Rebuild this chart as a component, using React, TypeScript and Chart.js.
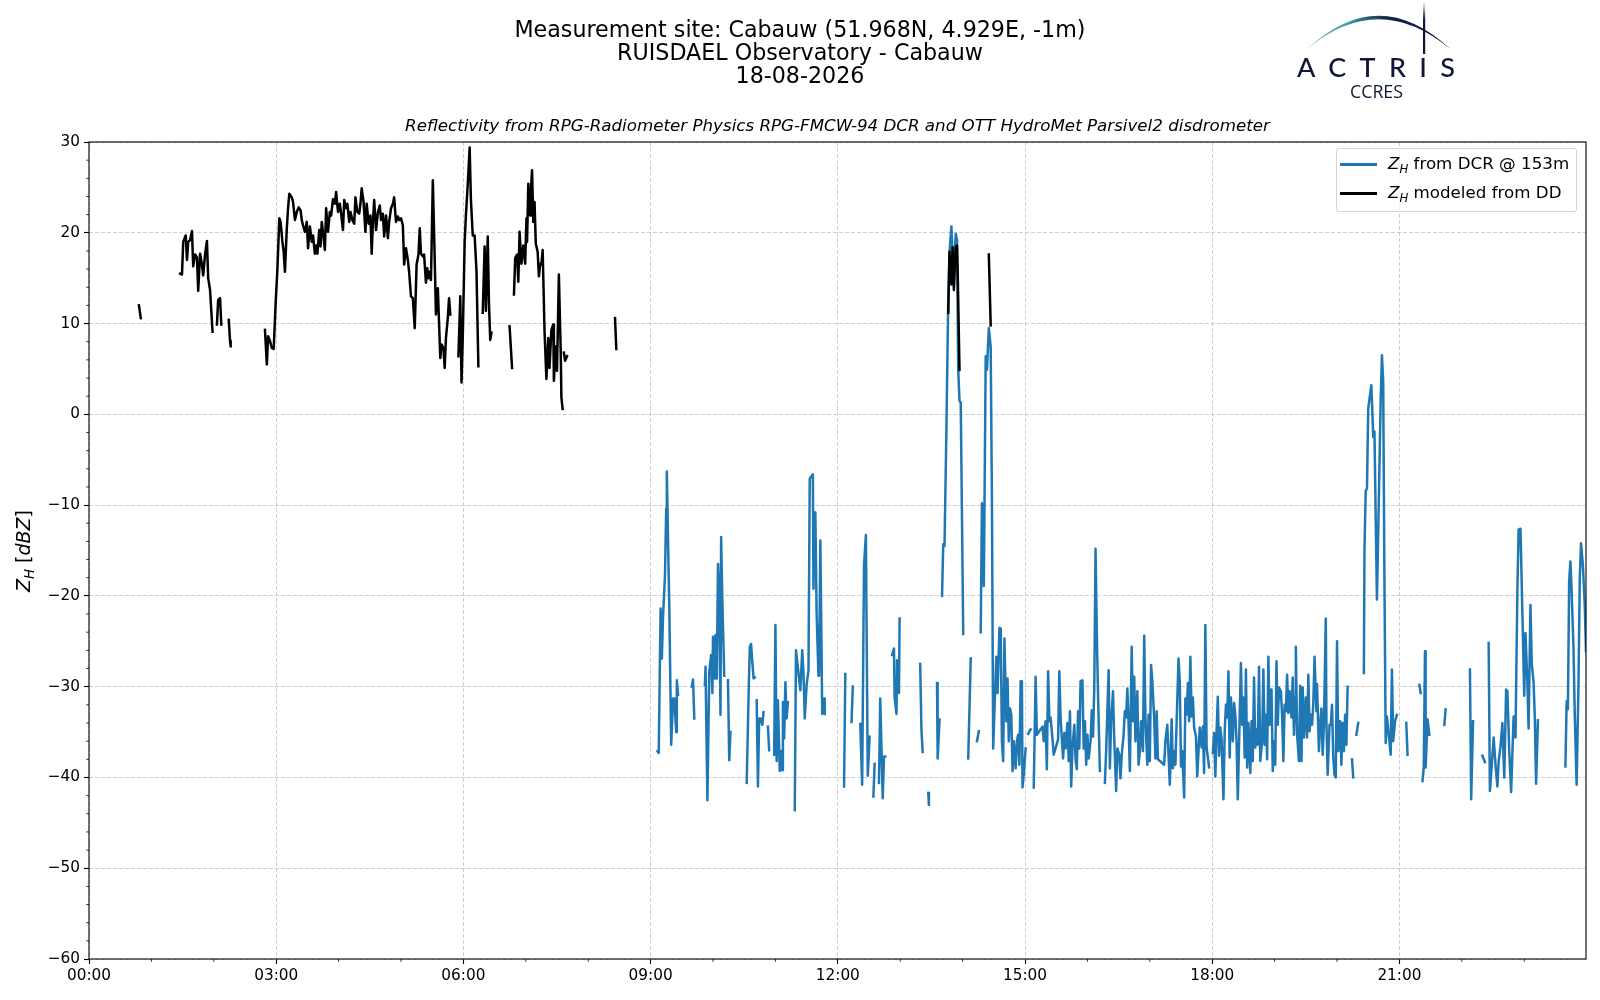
import React, { useEffect, useRef } from "react";
import { Chart, registerables } from "chart.js";

Chart.register(...registerables);

const FONT = "'DejaVu Sans', sans-serif";
const DCR_COLOR = "#1f77b4";
const DD_COLOR = "#000000";

// Z_H modeled from the disdrometer (hours of day, dBZ; null = no data)
const ddHours = [
  0.8, 0.83, 0.9,
  1.46, 1.49, 1.51, 1.55, 1.57, 1.59, 1.62, 1.65, 1.67, 1.7,
  1.73, 1.75, 1.78, 1.81, 1.83, 1.86, 1.89, 1.91, 1.94, 1.98, 2.02,
  2.05, 2.07, 2.1, 2.12, 2.18, 2.24, 2.26, 2.27, 2.5,
  2.82, 2.85, 2.87, 2.9, 2.93, 2.96, 2.99, 3.02, 3.05, 3.07,
  3.1, 3.12, 3.14, 3.17, 3.19, 3.21, 3.25, 3.27, 3.3, 3.33,
  3.36, 3.39, 3.41, 3.43, 3.46, 3.49, 3.51, 3.54, 3.57, 3.59,
  3.62, 3.64, 3.66, 3.69, 3.71, 3.73, 3.75, 3.78, 3.8, 3.83,
  3.86, 3.88, 3.91, 3.94, 3.96, 3.99, 4.02, 4.04, 4.07, 4.09,
  4.12, 4.14, 4.17, 4.19, 4.22, 4.25, 4.27, 4.3, 4.33, 4.35,
  4.37, 4.4, 4.43, 4.45, 4.48, 4.51, 4.53, 4.55, 4.57, 4.6,
  4.63, 4.66, 4.68, 4.71, 4.73, 4.76, 4.79, 4.81, 4.84, 4.87,
  4.89, 4.92, 4.95, 4.97, 5.0, 5.03, 5.05, 5.08, 5.11, 5.13,
  5.16, 5.19, 5.22, 5.25, 5.28, 5.3, 5.32, 5.35, 5.37, 5.4,
  5.42, 5.44, 5.46, 5.48, 5.51, 5.53, 5.56, 5.59, 5.63, 5.65,
  5.68, 5.7, 5.72, 5.75, 5.77, 5.79, 5.85,
  5.92, 5.95, 5.97, 5.99, 6.02, 6.04, 6.07, 6.1, 6.12, 6.15, 6.18, 6.21, 6.24, 6.27,
  6.31, 6.34, 6.36, 6.39, 6.41, 6.43, 6.45, 6.6, 6.74, 6.78, 6.795,
  6.81, 6.83, 6.86, 6.88, 6.9, 6.93, 6.96, 6.99, 7.01, 7.02,
  7.04, 7.07, 7.08, 7.1, 7.12, 7.14, 7.16, 7.19, 7.21, 7.23,
  7.25, 7.27, 7.3, 7.33, 7.36, 7.38, 7.41, 7.44, 7.45, 7.48,
  7.5, 7.53, 7.56, 7.57, 7.59, 7.6, 7.61, 7.63, 7.66, 8.0,
  8.43, 8.45, 9.0,
  13.77, 13.79, 13.82, 13.84, 13.86, 13.89, 13.91, 13.92, 13.95, 14.1,
  14.42, 14.45,
];
const ddDbz = [
  12.0, 10.6, null,
  15.5, 15.4, 19.0, 19.7, 17.0, 19.0, 19.2, 20.2, 16.3, 17.6,
  17.3, 13.6, 17.7, 16.5, 15.3, 17.6, 19.1, 15.0, 13.7, 9.1, null,
  9.9, 12.6, 12.8, 9.9, null, 10.4, 8.1, 7.5, null,
  9.3, 5.5, 8.6, 8.1, 7.3, 7.2, 12.1, 16.1, 21.6, 21.2,
  19.0, 17.9, 15.7, 20.5, 22.7, 24.3, 23.9, 23.4, 21.4, 22.3,
  22.8, 22.5, 21.4, 20.8, 20.1, 21.2, 18.3, 20.7, 19.0, 19.7,
  17.7, 18.6, 17.7, 20.3, 18.5, 21.2, 20.1, 18.1, 22.7, 20.1,
  22.3, 21.9, 23.7, 23.2, 24.5, 22.3, 23.2, 22.1, 20.3, 23.6,
  22.7, 23.2, 21.2, 22.3, 21.4, 21.0, 23.9, 22.3, 22.1, 23.2,
  24.9, 23.4, 20.1, 23.2, 21.0, 21.9, 17.7, 21.2, 23.6, 20.3,
  22.3, 23.0, 21.4, 22.1, 19.6, 21.9, 19.4, 21.2, 22.7, 23.2,
  23.9, 21.2, 21.8, 21.4, 21.6, 20.8, 16.5, 18.3, 17.0, 15.7,
  13.0, 12.8, 9.5, 16.5, 17.6, 20.5, 17.7, 17.4, 17.6, 14.5,
  16.1, 15.0, 15.7, 14.8, 25.8, 20.1, 11.0, 13.9, 6.2, 7.7,
  7.3, 5.1, 8.4, 10.6, 12.8, 11.0, null,
  6.4, 13.0, 3.5, 8.6, 19.0, 21.9, 25.4, 29.4, 23.7, 19.7, 19.7, 15.7, 5.3, null,
  11.2, 18.5, 11.4, 19.6, 12.1, 8.2, 9.0, null, 9.7, 5.1, null,
  13.2, 17.2, 17.6, 14.6, 20.1, 16.6, 18.6, 16.6, 21.6, 19.0,
  25.4, 21.9, 24.5, 26.9, 21.2, 23.4, 18.8, 17.9, 15.2, 16.6,
  16.5, 18.1, 9.2, 3.9, 8.4, 5.1, 9.3, 9.9, 3.7, 7.5,
  4.8, 15.4, 6.8, 1.9, 0.6, null, 6.8, 5.9, 6.4, null,
  10.6, 7.2, null,
  11.2, 17.9, 14.3, 18.4, 13.7, 18.4, 18.6, 16.1, 4.9, null,
  17.6, 9.8,
];

// Z_H from the cloud radar at 153 m
const dcrHours = [
  9.11, 9.13, 9.16, 9.18, 9.2, 9.23, 9.25, 9.26, 9.28, 9.3,
  9.33, 9.36, 9.38, 9.41, 9.42, 9.44, 9.55,
  9.66, 9.68, 9.7, 9.8,
  9.87, 9.88, 9.91, 9.94, 9.97, 9.99, 10.0, 10.03, 10.04, 10.06,
  10.08, 10.1, 10.12, 10.13, 10.15, 10.18, 10.21,
  10.24, 10.26, 10.28, 10.4,
  10.54, 10.57, 10.59, 10.61, 10.63, 10.65, 10.67, 10.68,
  10.7, 10.72, 10.74, 10.76, 10.79, 10.81, 10.85,
  10.88, 10.9, 10.95,
  10.98, 11.0, 11.02, 11.04, 11.07, 11.09, 11.11, 11.12, 11.14, 11.16, 11.18, 11.2, 11.25,
  11.31, 11.33, 11.4, 11.43, 11.45, 11.47, 11.5, 11.53, 11.55, 11.58,
  11.6, 11.61, 11.62, 11.64, 11.66, 11.69, 11.7, 11.72, 11.75, 11.78, 11.79, 11.95,
  12.1, 12.12, 12.18, 12.22, 12.24, 12.3,
  12.36, 12.39, 12.42, 12.45, 12.48, 12.51, 12.54,
  12.57, 12.59, 12.62, 12.66, 12.68, 12.72, 12.74, 12.76, 12.82,
  12.87, 12.9, 12.91, 12.94, 12.95, 12.98, 12.99, 13.15,
  13.32, 13.34, 13.36, 13.4, 13.45, 13.46, 13.52,
  13.59, 13.6, 13.63, 13.65,
  13.67, 13.69, 13.71, 13.74, 13.77, 13.79, 13.82, 13.85, 13.87, 13.89,
  13.91, 13.93, 13.95, 13.97, 14.01, 14.05,
  14.09, 14.13, 14.18, 14.23, 14.26, 14.27,
  14.29, 14.31, 14.34, 14.37, 14.39, 14.42, 14.45, 14.47, 14.49, 14.54,
  14.56, 14.59, 14.61, 14.63, 14.65, 14.67, 14.7, 14.72, 14.74, 14.76,
  14.78, 14.8, 14.82, 14.85, 14.87, 14.89, 14.91, 14.93, 14.95, 14.96,
  14.98, 15.01, 15.03, 15.05, 15.09, 15.12,
  15.14, 15.17, 15.19, 15.28, 15.3, 15.33, 15.35, 15.37, 15.39, 15.41,
  15.44, 15.46, 15.53, 15.55, 15.57, 15.61, 15.63, 15.65, 15.68, 15.7,
  15.72, 15.74, 15.76, 15.79, 15.81, 15.83, 15.85, 15.87, 15.89, 15.92,
  15.94, 15.96, 15.98, 16.0, 16.02, 16.05, 16.07, 16.09, 16.11, 16.13,
  16.15, 16.17, 16.2, 16.24, 16.28, 16.3, 16.34, 16.36, 16.38, 16.41,
  16.43, 16.46, 16.48, 16.51, 16.53, 16.55, 16.58, 16.6, 16.62, 16.64,
  16.66, 16.68, 16.71, 16.73, 16.75, 16.77, 16.8, 16.82, 16.84, 16.86,
  16.89, 16.91, 16.93, 16.96, 16.98, 17.0, 17.02, 17.04, 17.07, 17.09,
  17.11, 17.13, 17.23, 17.25, 17.28, 17.3, 17.32, 17.35, 17.37, 17.39,
  17.41, 17.43, 17.46, 17.48, 17.5, 17.52, 17.55, 17.57, 17.59, 17.61,
  17.63, 17.65, 17.67, 17.69, 17.71, 17.74, 17.76, 17.78, 17.8, 17.83,
  17.85, 17.87, 17.89, 17.91, 17.93, 17.95, 17.98,
  18.01, 18.03, 18.05, 18.07, 18.09, 18.11, 18.13, 18.15, 18.18, 18.2,
  18.22, 18.24, 18.26, 18.28, 18.3, 18.33, 18.35, 18.37, 18.39, 18.41,
  18.43, 18.46, 18.48, 18.5, 18.52, 18.54, 18.56, 18.58, 18.61, 18.63,
  18.65, 18.67, 18.69, 18.71, 18.73, 18.75, 18.77, 18.8, 18.82, 18.84,
  18.86, 18.88, 18.9, 18.92, 18.95, 18.97, 18.99, 19.01, 19.03, 19.05,
  19.07, 19.1, 19.12, 19.14, 19.16, 19.18, 19.2, 19.22, 19.24, 19.27,
  19.29, 19.31, 19.33, 19.34, 19.36, 19.39, 19.41, 19.43, 19.45, 19.47,
  19.5, 19.52, 19.54, 19.56, 19.58, 19.6, 19.62, 19.64, 19.67, 19.68,
  19.71, 19.73, 19.75, 19.77, 19.79, 19.82, 19.83, 19.85, 19.88, 19.9,
  19.92, 19.94, 19.96, 19.98, 20.0, 20.02, 20.05, 20.07, 20.09, 20.11,
  20.13, 20.15, 20.17, 20.2, 20.24, 20.26, 20.28, 20.31, 20.34, 20.38,
  20.43, 20.44, 20.46, 20.48, 20.5, 20.52, 20.55, 20.57, 20.58, 20.6,
  20.62, 20.64, 20.67, 20.7, 20.72, 20.74, 20.76, 20.78, 20.8, 20.83,
  20.86, 20.88, 20.9, 20.93, 20.96, 21.05,
  21.11, 21.13, 21.2, 21.32, 21.34, 21.355,
  21.37, 21.39, 21.41, 21.42, 21.45, 21.48, 21.6,
  21.72, 21.74, 21.9, 22.13, 22.15, 22.18, 22.25,
  22.33, 22.37, 22.4, 22.43, 22.45, 22.51, 22.54, 22.57, 22.59, 22.62,
  22.65, 22.68, 22.71, 22.73, 22.76, 22.79, 22.83, 22.86, 22.89, 22.91,
  22.94, 22.97, 23.0, 23.02, 23.05, 23.07, 23.1, 23.12, 23.15, 23.17,
  23.19, 23.22, 23.4, 23.66, 23.68, 23.7, 23.72, 23.74, 23.76, 23.79,
  23.81, 23.84, 23.87, 23.89, 23.91, 23.94, 23.97, 23.99,
];
const dcrDbz = [
  -37.1, -37.3, -21.4, -26.9, -22.1, -17.8, -10.4, -6.3, -14.1, -21.4,
  -36.4, -31.3, -31.3, -35.0, -29.3, -30.9, null,
  -30.0, -29.2, -33.5, null,
  -29.8, -27.8, -42.5, -28.4, -26.5, -30.7, -24.5, -29.1, -24.3, -29.1,
  -16.5, -19.6, -33.1, -13.5, -20.7, -28.8, null,
  -29.3, -38.1, -35.0, null,
  -40.6, -30.9, -25.6, -25.3, -27.3, -29.1, -29.0, null,
  -31.5, -41.0, -33.5, -33.5, -34.2, -32.8, null,
  -34.4, -37.0, null,
  -37.5, -23.2, -38.2, -31.5, -39.3, -37.1, -39.2, -31.7, -35.7, -29.5, -33.5, -31.7, null,
  -43.6, -26.0, -30.4, -26.0, -28.5, -33.5, -29.8, -28.2, -7.1, -6.8,
  -6.6, -19.2, -11.0, -10.8, -21.8, -28.8, -28.8, -13.9, -33.0, -31.3, -33.0, null,
  -41.0, -28.6, null, -33.9, -30.0, null,
  -34.1, -40.8, -16.6, -13.3, -39.8, -35.5, null,
  -42.1, -38.5, null, -40.6, -31.3, -42.3, -37.7, -37.7, null,
  -26.5, -25.8, -31.1, -33.0, -27.1, -30.7, -22.5, null,
  -27.5, -34.7, -37.2, null, -41.7, -43.0, null,
  -29.6, -37.9, -33.6, null,
  -20.0, -14.3, -14.5, -1.8, 12.9, 17.8, 20.7, 15.9, 17.1, 19.9,
  19.2, 4.9, 1.5, 1.3, -24.2, null,
  -37.9, -26.9, null, -36.0, -34.9, null,
  -24.0, -9.8, -18.9, 6.4, 4.9, 9.5, 7.4, -9.8, -36.8, -26.7,
  -30.7, -23.5, -23.6, -36.0, -38.2, -24.7, -33.8, -29.1, -36.0, -32.4,
  -33.1, -39.3, -36.0, -39.0, -36.0, -35.3, -38.6, -29.4, -29.4, -41.1,
  -39.7, -36.8, null, -35.2, -34.7, null,
  -41.1, -28.9, -35.3, -34.4, -36.0, -33.8, -39.1, -28.3, -33.8, -33.4,
  -35.7, -37.5, -35.8, -28.3, -33.5, -37.9, -35.1, -36.8, -34.0, -38.2,
  -32.7, -41.0, -36.8, -34.2, -38.0, -39.1, -32.7, -36.8, -29.4, -29.3,
  -36.8, -33.8, -38.6, -35.3, -37.9, -36.0, -32.6, -35.5, -30.2, -14.8,
  -24.0, -30.9, -39.3, null, -40.6, -37.1, -28.2, -39.0, -33.8, -30.5,
  -35.8, -41.5, -36.8, -37.5, -40.1, -37.5, -35.3, -32.7, -33.4, -30.2,
  -34.2, -39.3, -25.6, -33.8, -28.9, -36.0, -30.5, -38.6, -37.1, -33.8,
  -37.1, -24.4, -33.5, -38.6, -33.1, -38.2, -27.6, -29.4, -33.5, -37.9,
  -32.7, -38.0, -38.6, -36.0, -34.2, -37.5, -40.8, -33.6, -39.0, -37.1,
  -38.6, -33.8, -26.9, -29.4, -38.8, -37.1, -42.2, -31.3, -33.1, -29.6,
  -33.8, -26.7, -33.3, -31.2, -34.5, -35.5, -39.9, -37.1, -34.5, -36.7,
  -34.4, -39.5, -23.2, -36.7, -37.8, -38.9, null,
  -37.3, -35.1, -39.9, -34.9, -31.1, -37.6, -34.5, -35.8, -42.4, -34.9,
  -32.0, -33.4, -28.3, -37.8, -31.2, -36.0, -31.8, -33.1, -36.0, -42.4,
  -36.4, -27.4, -34.2, -31.2, -37.8, -28.1, -38.9, -34.0, -39.5, -33.8,
  -38.2, -29.0, -36.7, -34.7, -36.4, -27.8, -38.2, -36.0, -28.1, -36.4,
  -33.1, -38.0, -26.7, -34.2, -30.3, -39.3, -36.0, -38.6, -27.2, -34.2,
  -30.1, -30.5, -33.1, -38.2, -32.0, -32.7, -28.7, -32.9, -30.5, -33.4,
  -29.0, -35.3, -31.2, -25.6, -35.3, -38.2, -29.9, -38.2, -30.1, -35.6,
  -31.2, -35.6, -28.7, -34.9, -33.1, -34.2, -31.8, -26.7, -32.7, -29.7,
  -37.1, -34.2, -32.4, -37.5, -34.2, -22.5, -33.8, -39.7, -34.2, -34.2,
  -32.0, -37.8, -39.7, -40.0, -25.0, -37.1, -33.8, -38.6, -34.0, -37.1,
  -33.1, -36.4, -30.0, null, -38.0, -40.0, null, -35.3, -34.0, null,
  -28.5, -14.8, -8.4, -8.2, 0.6, 1.7, 3.2, -0.5, -2.5, -1.9,
  -11.5, -20.4, -9.3, 1.7, 6.5, 3.6, -18.4, -36.2, -33.3, -35.3,
  -37.5, -28.1, -36.0, -33.8, -33.1, null,
  -34.0, -37.5, null, -29.8, -30.7, null,
  -40.4, -38.9, -26.1, -38.9, -33.6, -35.3, null,
  -34.2, -32.5, null, -28.1, -42.4, -33.8, null,
  -37.6, -38.3, null, -25.2, -41.5, -35.6, -38.6, -41.0, -38.2, -36.6,
  -34.0, -40.0, -30.3, -30.5, -37.1, -41.6, -33.3, -35.6, -19.5, -12.7,
  -12.6, -21.7, -31.0, -24.1, -29.4, -34.6, -21.0, -27.4, -29.5, -33.5,
  -40.7, -33.7, null, -38.8, -31.6, -32.5, -18.4, -16.2, -19.5, -25.8,
  -33.1, -40.8, -29.5, -18.1, -14.2, -16.6, -21.0, -26.1,
];

const xTickHours = [0, 3, 6, 9, 12, 15, 18, 21];
const titleLines = [
  "Measurement site: Cabauw (51.968N, 4.929E, -1m)",
  "RUISDAEL Observatory - Cabauw",
  "18-08-2026",
];
const subtitle =
  "Reflectivity from RPG-Radiometer Physics RPG-FMCW-94 DCR and OTT HydroMet Parsivel2 disdrometer";

const toPoints = (hours: number[], values: (number | null)[]) =>
  hours.map((x, i) => ({ x, y: values[i] }));

const hourLabel = (h: number) => `${String(h).padStart(2, "0")}:00`;
const dbzLabel = (v: number) => (v < 0 ? `\u2212${-v}` : `${v}`);

// full frame + minor ticks, the way matplotlib draws them
const framePlugin = {
  id: "frame",
  afterDraw(chart: Chart) {
    const { ctx, chartArea: a, scales } = chart;
    ctx.save();
    ctx.strokeStyle = "#000";
    ctx.lineWidth = 1.1;
    ctx.strokeRect(a.left, a.top, a.right - a.left, a.bottom - a.top);
    ctx.lineWidth = 0.8;
    ctx.beginPath();
    for (let h = 1; h < 24; h++) {
      if (h % 3 === 0) continue;
      const px = scales.x.getPixelForValue(h);
      ctx.moveTo(px, a.bottom);
      ctx.lineTo(px, a.bottom + 2.8);
    }
    for (let v = -58; v < 30; v += 2) {
      if (v % 10 === 0) continue;
      const py = scales.y.getPixelForValue(v);
      ctx.moveTo(a.left, py);
      ctx.lineTo(a.left - 2.8, py);
    }
    ctx.stroke();
    ctx.restore();
  },
};

const gridColor = "rgba(176,176,176,0.6)";

function ZH() {
  return (
    <>
      <span style={{ fontStyle: "italic" }}>Z</span>
      <span style={{ fontStyle: "italic", fontSize: "70%", position: "relative", top: "0.3em" }}>H</span>
    </>
  );
}

function Logo() {
  return (
    <svg
      width={180}
      height={105}
      style={{ position: "absolute", left: 1290, top: 0 }}
      viewBox="0 0 180 105"
    >
      <defs>
        <linearGradient id="arcGrad" x1="0" y1="0" x2="1" y2="0">
          <stop offset="0" stopColor="#7fd0c8" />
          <stop offset="0.3" stopColor="#3f97a0" />
          <stop offset="0.55" stopColor="#15274c" />
          <stop offset="1" stopColor="#0f1538" />
        </linearGradient>
        <linearGradient id="mastGrad" x1="0" y1="0" x2="0" y2="1">
          <stop offset="0" stopColor="#0f1538" stopOpacity="0" />
          <stop offset="0.35" stopColor="#0f1538" stopOpacity="1" />
          <stop offset="1" stopColor="#0f1538" stopOpacity="1" />
        </linearGradient>
      </defs>
      <path d="M 16.7 49.3 Q 88.7 -18 160.7 49.3 Q 88.7 -11 16.7 49.3 Z" fill="url(#arcGrad)" />
      <rect x={133} y={2} width={2.2} height={52} fill="url(#mastGrad)" />
      <text
        x={7}
        y={76.7}
        textLength={158}
        lengthAdjust="spacing"
        fill="#0f1538"
        style={{ fontFamily: "Lato, 'Noto Sans', sans-serif", fontSize: 27, fontWeight: 500 }}
      >
        ACTRIS
      </text>
      <text
        x={60}
        y={98}
        textLength={53}
        lengthAdjust="spacingAndGlyphs"
        fill="#0f1538"
        style={{ fontFamily: "'Open Sans', 'Noto Sans', sans-serif", fontSize: 18 }}
      >
        CCRES
      </text>
    </svg>
  );
}

export default function App() {
  const canvasRef = useRef<HTMLCanvasElement | null>(null);
  const chartRef = useRef<Chart | null>(null);

  useEffect(() => {
    if (!canvasRef.current) return;
    chartRef.current?.destroy();
    chartRef.current = new Chart(canvasRef.current, {
      type: "line",
      data: {
        datasets: [
          {
            label: "Z_H modeled from DD",
            data: toPoints(ddHours, ddDbz),
            borderColor: DD_COLOR,
            borderWidth: 2.5,
            pointRadius: 0,
            spanGaps: false,
            borderJoinStyle: "round",
            borderCapStyle: "square",
            order: 0,
          },
          {
            label: "Z_H from DCR @ 153m",
            data: toPoints(dcrHours, dcrDbz),
            borderColor: DCR_COLOR,
            borderWidth: 2.5,
            pointRadius: 0,
            spanGaps: false,
            borderJoinStyle: "round",
            borderCapStyle: "square",
            order: 1,
          },
        ],
      },
      options: {
        animation: false,
        responsive: false,
        devicePixelRatio: 1,
        layout: { padding: { top: 142, right: 14, left: 0, bottom: 0 } },
        plugins: {
          legend: { display: false },
          tooltip: { enabled: false },
        },
        scales: {
          x: {
            type: "linear",
            min: 0,
            max: 23.99,
            afterBuildTicks: (axis: any) => {
              axis.ticks = xTickHours.map((value) => ({ value }));
            },
            afterFit: (scale: any) => {
              scale.height = 41;
            },
            ticks: {
              callback: (v: any) => hourLabel(Number(v)),
              color: "#000",
              font: { family: FONT, size: 15.3 },
              padding: 3,
              maxRotation: 0,
              autoSkip: false,
            },
            grid: {
              color: gridColor,
              lineWidth: 1,
              tickLength: 5,
              tickColor: "#000",
              tickWidth: 1.1,
              borderDash: [4, 2],
            } as any,
            border: { display: false, dash: [4, 2] },
          },
          y: {
            type: "linear",
            min: -60,
            max: 30,
            afterFit: (scale: any) => {
              scale.width = 89;
            },
            ticks: {
              stepSize: 10,
              callback: (v: any) => dbzLabel(Number(v)),
              color: "#000",
              font: { family: FONT, size: 15.3 },
              padding: 4,
            },
            grid: {
              color: gridColor,
              lineWidth: 1,
              tickLength: 5,
              tickColor: "#000",
              tickWidth: 1.1,
              borderDash: [4, 2],
            } as any,
            border: { display: false, dash: [4, 2] },
          },
        },
      },
      plugins: [framePlugin],
    });
    return () => {
      chartRef.current?.destroy();
      chartRef.current = null;
    };
  }, []);

  return (
    <div
      style={{
        position: "absolute",
        left: 0,
        top: 0,
        width: 1600,
        height: 1000,
        background: "#fff",
        fontFamily: FONT,
        color: "#000",
        overflow: "hidden",
      }}
    >
      <canvas ref={canvasRef} width={1600} height={1000} style={{ position: "absolute", left: 0, top: 0 }} />
      {titleLines.map((line, i) => (
        <div
          key={line}
          style={{
            position: "absolute",
            left: 0,
            width: 1600,
            top: 15.6 + i * 23.4,
            lineHeight: "26px",
            fontSize: 22.2,
            textAlign: "center",
            whiteSpace: "nowrap",
          }}
        >
          {line}
        </div>
      ))}
      <div
        style={{
          position: "absolute",
          left: 89,
          width: 1497,
          top: 115.2,
          lineHeight: "20px",
          fontSize: 16.7,
          fontStyle: "italic",
          textAlign: "center",
          whiteSpace: "nowrap",
        }}
      >
        {subtitle}
      </div>
      <div
        style={{
          position: "absolute",
          left: 22.5 - 100,
          top: 551 - 12,
          width: 200,
          height: 24,
          lineHeight: "24px",
          fontSize: 19,
          textAlign: "center",
          transform: "rotate(-90deg)",
          whiteSpace: "nowrap",
        }}
      >
        <ZH /> [<span style={{ fontStyle: "italic" }}>dBZ</span>]
      </div>
      <Logo />
      <div
        style={{
          position: "absolute",
          left: 1336,
          top: 148,
          width: 241,
          height: 64,
          boxSizing: "border-box",
          border: "1px solid #d4d4d4",
          borderRadius: 3,
          background: "rgba(255,255,255,0.8)",
          fontSize: 16.7,
        }}
      >
        {[
          { color: DCR_COLOR, text: " from DCR @ 153m" },
          { color: DD_COLOR, text: " modeled from DD" },
        ].map((item, i) => (
          <div
            key={item.text}
            style={{
              position: "absolute",
              left: 0,
              top: 15.3 + i * 29 - 10,
              height: 20,
              display: "flex",
              alignItems: "center",
              whiteSpace: "pre",
            }}
          >
            <span style={{ display: "inline-block", width: 37, height: 2.5, marginLeft: 3, background: item.color }} />
            <span style={{ marginLeft: 11, lineHeight: "20px" }}>
              <ZH />
              {item.text}
            </span>
          </div>
        ))}
      </div>
    </div>
  );
}
